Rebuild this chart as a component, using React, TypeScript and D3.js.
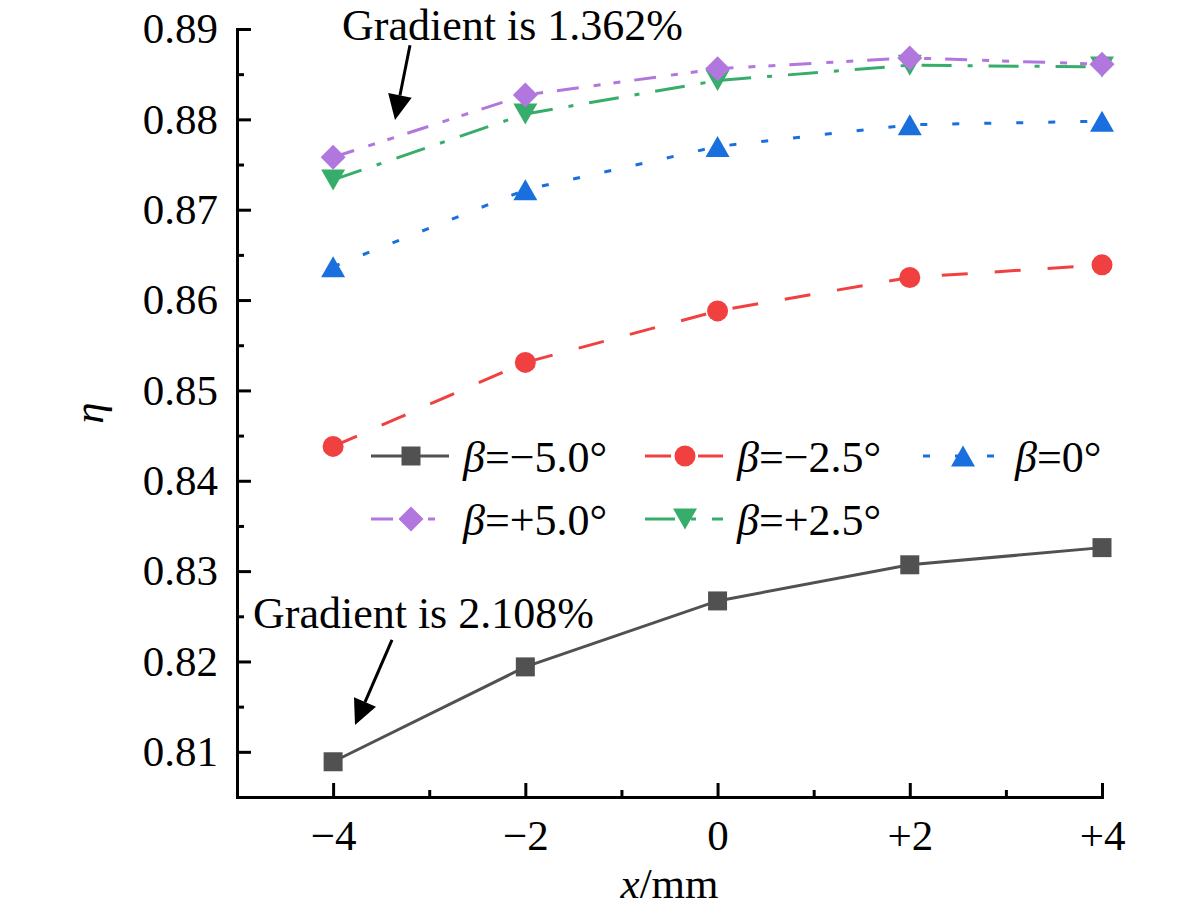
import React, { useRef, useEffect } from "react";
import * as d3 from "d3";

// offset along x (mm)
const xValues = [-4, -2, 0, 2, 4];
const xTickLabels = ["−4", "−2", "0", "+2", "+4"];
const yTickValues = [0.81, 0.82, 0.83, 0.84, 0.85, 0.86, 0.87, 0.88, 0.89];

// efficiency eta for each blade angle beta
const etaMinus50 = [0.8089, 0.8194, 0.8267, 0.8307, 0.8326];
const etaMinus25 = [0.8438, 0.8531, 0.8588, 0.8625, 0.8639];
const etaZero = [0.8637, 0.8722, 0.877, 0.8794, 0.8798];
const etaPlus25 = [0.8733, 0.8806, 0.8843, 0.886, 0.8858];
const etaPlus50 = [0.8758, 0.8827, 0.8856, 0.8868, 0.8861];

const legendLabels = ["−5.0°", "−2.5°", "0°", "+5.0°", "+2.5°"];

type Shape = "square" | "circle" | "up" | "down" | "diamond";

interface Series {
  label: string;
  values: number[];
  color: string;
  dash: string | null;
  shape: Shape;
}

const series: Series[] = [
  { label: legendLabels[0], values: etaMinus50, color: "#515151", dash: null, shape: "square" },
  { label: legendLabels[1], values: etaMinus25, color: "#F14040", dash: "26,27", shape: "circle" },
  { label: legendLabels[2], values: etaZero, color: "#1A6FDF", dash: "7,25", shape: "up" },
  { label: legendLabels[3], values: etaPlus50, color: "#B177DE", dash: "22,15,7,13,7,14", shape: "diamond" },
  { label: legendLabels[4], values: etaPlus25, color: "#37AD6B", dash: "30,16,5,16", shape: "down" },
];
// green is drawn under purple
const drawOrder = [0, 1, 2, 4, 3];

const W = 1181;
const H = 921;
const FONT = "'Liberation Serif', 'Times New Roman', serif";
const FS = 43;
const FS_TEXT = 44;

function markerPath(shape: Shape): string {
  if (shape === "square") return d3.symbol(d3.symbolSquare, 19 * 19)()!;
  if (shape === "circle") return d3.symbol(d3.symbolCircle, Math.PI * 10.5 * 10.5)()!;
  if (shape === "up") return "M0,-10.5L12,10.5L-12,10.5Z";
  if (shape === "down") return "M0,10.5L12,-10.5L-12,-10.5Z";
  return "M0,-12.5L12.5,0L0,12.5L-12.5,0Z";
}

const App: React.FC = () => {
  const ref = useRef<SVGSVGElement | null>(null);

  useEffect(() => {
    if (!ref.current) return;
    const svg = d3.select(ref.current);
    svg.selectAll("*").remove();

    const x = d3.scaleLinear().domain([-5, 4]).range([237, 1102]);
    const y = d3.scaleLinear().domain([0.805, 0.89]).range([797, 29]);

    // axes
    const yMinor = d3.range(0.815, 0.889, 0.01);
    svg
      .append("g")
      .attr("transform", `translate(${x(-5)},0)`)
      .call(d3.axisLeft(y).tickValues(yMinor).tickSize(-7).tickFormat(() => ""))
      .call((g) => g.select(".domain").remove());
    const yAxis = svg
      .append("g")
      .attr("transform", `translate(${x(-5)},0)`)
      .call(
        d3
          .axisLeft(y)
          .tickValues(yTickValues)
          .tickSizeInner(-14)
          .tickSizeOuter(0)
          .tickPadding(19)
          .tickFormat(d3.format(".2f"))
      );

    const xMinor = [-3, -1, 1, 3];
    svg
      .append("g")
      .attr("transform", `translate(0,${y(0.805)})`)
      .call(d3.axisBottom(x).tickValues(xMinor).tickSize(-7).tickFormat(() => ""))
      .call((g) => g.select(".domain").remove());
    const xAxis = svg
      .append("g")
      .attr("transform", `translate(0,${y(0.805)})`)
      .call(
        d3
          .axisBottom(x)
          .tickValues(xValues)
          .tickSizeInner(-14)
          .tickSizeOuter(0)
          .tickPadding(22)
          .tickFormat((_, i) => xTickLabels[i])
      );

    svg.selectAll(".tick line").attr("stroke", "#000").attr("stroke-width", 3);
    svg.selectAll(".domain").attr("stroke", "#000").attr("stroke-width", 3).attr("stroke-linecap", "square");
    [xAxis, yAxis].forEach((g) =>
      g.selectAll("text").attr("font-family", FONT).attr("font-size", FS).attr("fill", "#000")
    );
    xAxis.selectAll("text").attr("dy", "0.71em");

    // axis titles
    const xt = svg
      .append("text")
      .attr("x", (x(-5) + x(4)) / 2)
      .attr("y", 898)
      .attr("text-anchor", "middle")
      .attr("font-family", FONT)
      .attr("font-size", FS);
    xt.append("tspan").attr("font-style", "italic").text("x");
    xt.append("tspan").text("/mm");

    svg
      .append("text")
      .attr("transform", `translate(103,${(y(0.805) + y(0.89)) / 2}) rotate(-90)`)
      .attr("text-anchor", "middle")
      .attr("font-family", FONT)
      .attr("font-size", FS)
      .attr("font-style", "italic")
      .text("η");

    // lines and markers
    const line = d3
      .line<number>()
      .x((_, i) => x(xValues[i]))
      .y((d) => y(d));

    drawOrder.forEach((k) => {
      const s = series[k];
      svg
        .append("path")
        .datum(s.values)
        .attr("fill", "none")
        .attr("stroke", s.color)
        .attr("stroke-width", 3)
        .attr("stroke-dasharray", s.dash)
        .attr("d", line);
    });
    drawOrder.forEach((k) => {
      const s = series[k];
      svg
        .append("g")
        .selectAll("path")
        .data(s.values)
        .join("path")
        .attr("transform", (d, i) => `translate(${x(xValues[i])},${y(d)})`)
        .attr("d", markerPath(s.shape))
        .attr("fill", s.color);
    });

    // legend
    const legendCols = [371, 645, 923];
    const legendRows = [456, 519];
    series.forEach((s, i) => {
      const lx = legendCols[i % 3];
      const ly = legendRows[Math.floor(i / 3)];
      const g = svg.append("g").attr("transform", `translate(${lx},${ly})`);
      g.append("line")
        .attr("x1", 0)
        .attr("x2", 78)
        .attr("stroke", s.color)
        .attr("stroke-width", 3)
        .attr("stroke-dasharray", s.dash);
      g.append("path").attr("transform", "translate(40,0)").attr("d", markerPath(s.shape)).attr("fill", s.color);
      const t = g
        .append("text")
        .attr("x", 92)
        .attr("y", 16)
        .attr("font-family", FONT)
        .attr("font-size", FS_TEXT);
      t.append("tspan").attr("font-style", "italic").text("β");
      t.append("tspan").text("=" + s.label);
    });

    // annotations
    const notes = [
      { text: "Gradient is 1.362%", tx: -3.907, ty: 0.88878, x0: -3.2, y0: 0.8882, x1: -3.356, y1: 0.87993 },
      { text: "Gradient is 2.108%", tx: -4.834, ty: 0.8237, x0: -3.387, y0: 0.82238, x1: -3.772, y1: 0.81297 },
    ];
    notes.forEach((n) => {
      svg
        .append("text")
        .attr("x", x(n.tx))
        .attr("y", y(n.ty))
        .attr("font-family", FONT)
        .attr("font-size", FS_TEXT)
        .text(n.text);
      const ax0 = x(n.x0);
      const ay0 = y(n.y0);
      const ax1 = x(n.x1);
      const ay1 = y(n.y1);
      const ang = Math.atan2(ay1 - ay0, ax1 - ax0);
      const hl = 25;
      const hw = 12;
      const bx = ax1 - hl * Math.cos(ang);
      const by = ay1 - hl * Math.sin(ang);
      svg
        .append("line")
        .attr("x1", ax0)
        .attr("y1", ay0)
        .attr("x2", bx)
        .attr("y2", by)
        .attr("stroke", "#000")
        .attr("stroke-width", 3);
      const px = -Math.sin(ang);
      const py = Math.cos(ang);
      svg
        .append("path")
        .attr(
          "d",
          `M${ax1},${ay1}L${bx + hw * px},${by + hw * py}L${bx - hw * px},${by - hw * py}Z`
        )
        .attr("fill", "#000");
    });
  }, []);

  return (
    <svg
      ref={ref}
      width={W}
      height={H}
      style={{ position: "absolute", left: 0, top: 0, background: "#fff", fontFamily: FONT }}
    />
  );
};

export default App;
